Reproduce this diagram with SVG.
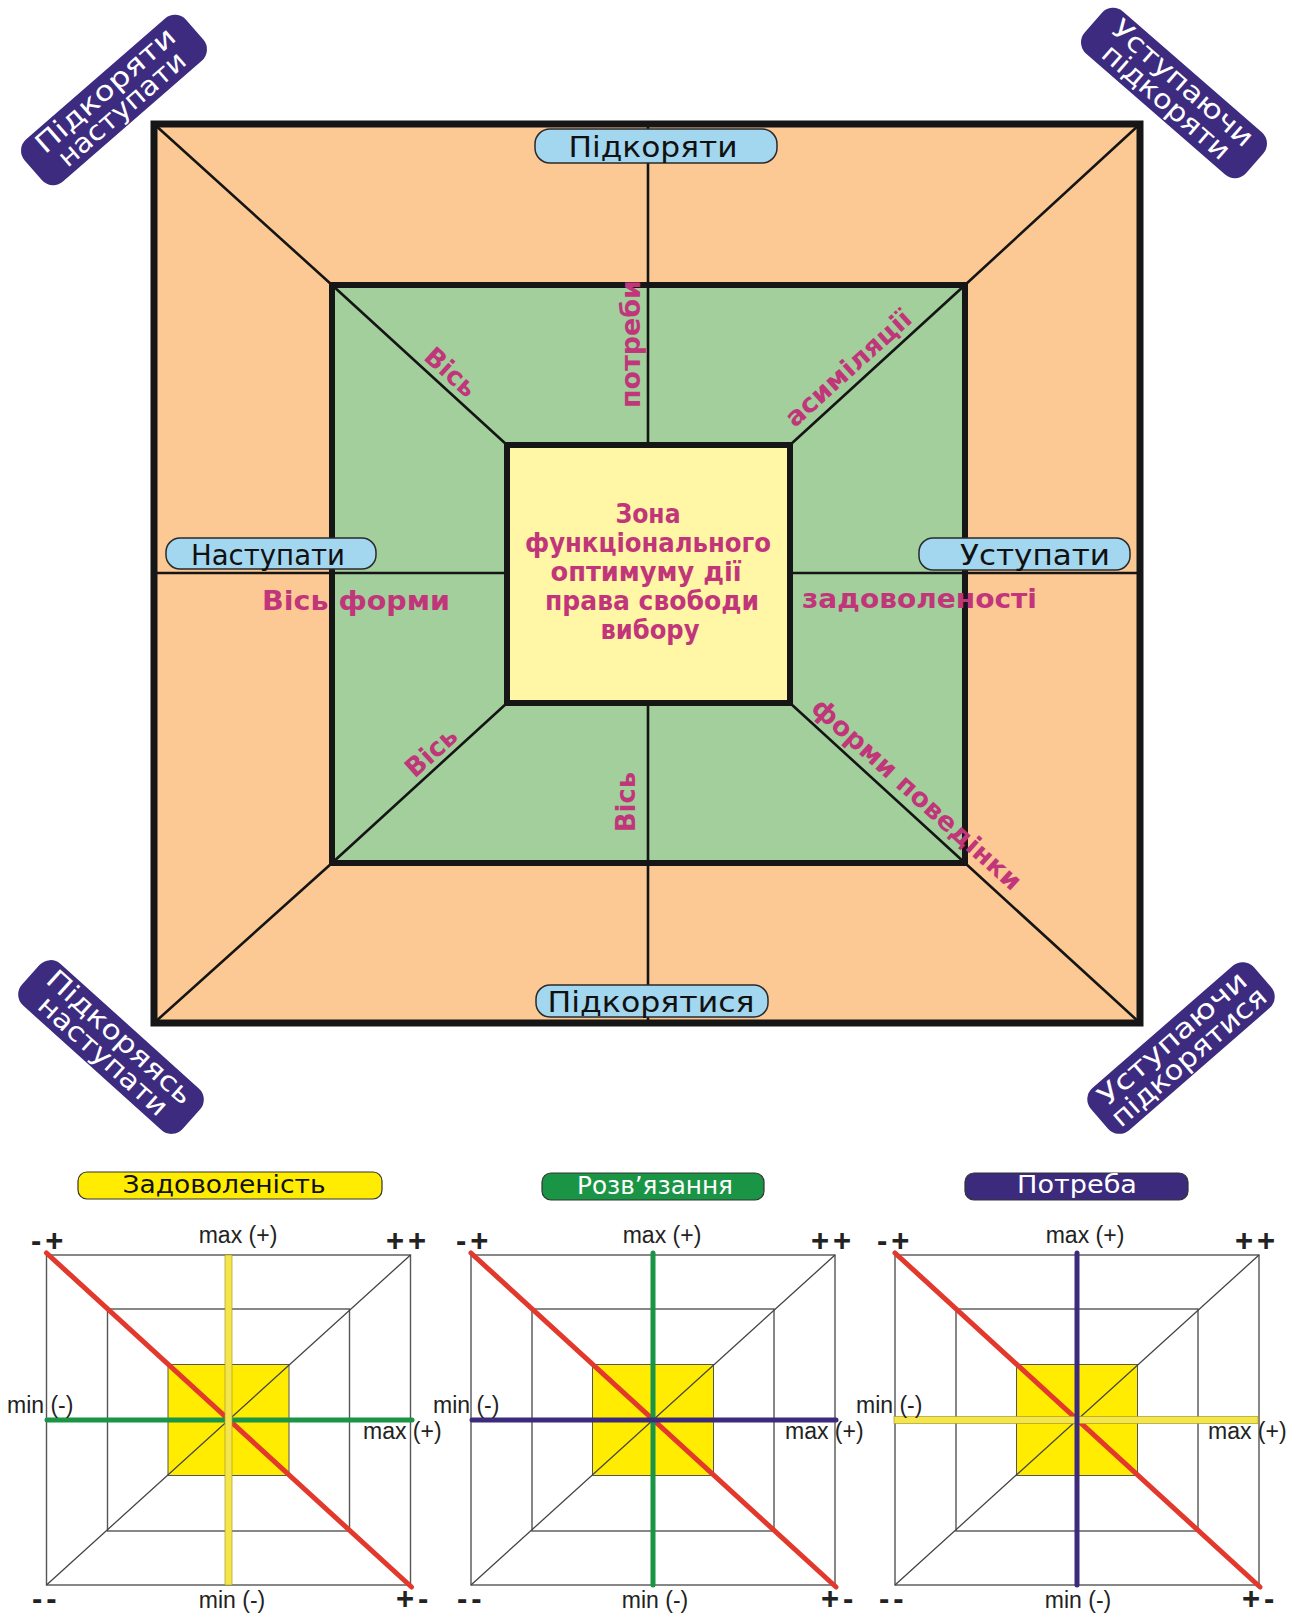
<svg xmlns="http://www.w3.org/2000/svg" width="1296" height="1617" viewBox="0 0 1296 1617">
<style>
.thin{stroke:#151515;stroke-width:2.6;fill:none}
.pill{fill:#a3d6ef;stroke:#2a2a2a;stroke-width:1.5}
.pilltxt{font-family:"DejaVu Sans",sans-serif;font-size:28px;fill:#111;text-anchor:middle}
.pink{font-family:"DejaVu Sans",sans-serif;font-weight:bold;font-size:26px;fill:#c1357a}
.pinkc{font-family:"DejaVu Sans",sans-serif;font-weight:bold;font-size:26px;fill:#c1357a;text-anchor:middle}
.cbox{fill:#3d2b7f}
.ctxt{font-family:"DejaVu Sans",sans-serif;font-size:27px;fill:#ffffff;text-anchor:middle}
.sm{font-family:"Liberation Sans",Arial,sans-serif;font-size:23px;fill:#222}
.pm{font-family:"Liberation Sans",Arial,sans-serif;font-size:31px;font-weight:bold;fill:#222;letter-spacing:4px}
.ttl{font-family:"DejaVu Sans",sans-serif;font-size:25px;text-anchor:middle}
.gthin{stroke:#444;stroke-width:1.3;fill:none}
</style>
<defs>
<g id="grid">
<rect x="-182" y="-165" width="364" height="330" fill="#ffffff" stroke="#555" stroke-width="1.4"/>
<rect x="-121" y="-111" width="242" height="222" fill="none" stroke="#555" stroke-width="1.4"/>
<rect x="-60.5" y="-55.5" width="121" height="111" fill="#ffec00" stroke="#555" stroke-width="1"/>
<path class="gthin" d="M-182 165 L182 -165 M-182 -165 L182 165"/>
<path d="M-182 -167 L183 167" stroke="#e2392c" stroke-width="5" stroke-linecap="round" fill="none"/>
</g>
</defs>

<g id="main-frame">
<rect x="154" y="124" width="986" height="899" fill="#fcc994"/>
<rect x="332" y="285" width="633" height="578" fill="#a3cf9d"/>
<rect x="507" y="445" width="283" height="258" fill="#fff6a6"/>
</g>

<g id="connectors">
<path class="thin" d="M154 124 L332 285 L507 445 M1140 124 L965 285 L790 445 M154 1023 L332 863 L507 703 M1140 1023 L965 863 L790 703 M648 124 V445 M648 703 V1023 M154 573 H507 M790 573 H1140"/>
</g>

<g id="main-borders" fill="none" stroke="#161616">
<rect x="154" y="124" width="986" height="899" stroke-width="7"/>
<rect x="332" y="285" width="633" height="578" stroke-width="6"/>
<rect x="507" y="445" width="283" height="258" stroke-width="6"/>
</g>

<g id="label-pidkoryaty">
<rect class="pill" x="535" y="129" width="242" height="34" rx="15"/>
<text class="pilltxt" x="653" y="157" font-size="30" textLength="169" lengthAdjust="spacingAndGlyphs">Підкоряти</text>
</g>
<g id="label-nastupaty">
<rect class="pill" x="166" y="538" width="210" height="31" rx="14"/>
<text class="pilltxt" x="268" y="565" textLength="154" lengthAdjust="spacingAndGlyphs">Наступати</text>
</g>
<g id="label-ustupaty">
<rect class="pill" x="919" y="538" width="211" height="32" rx="14"/>
<text class="pilltxt" x="1035" y="565" textLength="150" lengthAdjust="spacingAndGlyphs">Уступати</text>
</g>
<g id="label-pidkoryatysya">
<rect class="pill" x="536" y="985" width="232" height="32" rx="14"/>
<text class="pilltxt" x="651" y="1012" textLength="207" lengthAdjust="spacingAndGlyphs">Підкорятися</text>
</g>

<g id="center-zone">
<text class="pinkc" x="648" y="523" textLength="65" lengthAdjust="spacingAndGlyphs">Зона</text>
<text class="pinkc" x="648" y="552" textLength="246" lengthAdjust="spacingAndGlyphs">функціонального</text>
<text class="pinkc" x="646" y="581" textLength="191" lengthAdjust="spacingAndGlyphs">оптимуму дії</text>
<text class="pinkc" x="652" y="610" textLength="214" lengthAdjust="spacingAndGlyphs">права свободи</text>
<text class="pinkc" x="650" y="639" textLength="99" lengthAdjust="spacingAndGlyphs">вибору</text>
</g>

<g id="axis-labels">
<text class="pink" x="262" y="610" textLength="188" lengthAdjust="spacingAndGlyphs">Вісь форми</text>
<text class="pink" x="802" y="608" textLength="235" lengthAdjust="spacingAndGlyphs">задоволеності</text>
<text class="pinkc" transform="translate(451 372) rotate(42)" dy="0.35em" textLength="60" lengthAdjust="spacingAndGlyphs">Вісь</text>
<text class="pinkc" transform="translate(631 344) rotate(-90)" dy="0.35em" textLength="128" lengthAdjust="spacingAndGlyphs">потреби</text>
<text class="pinkc" transform="translate(848 368) rotate(-42)" dy="0.35em" textLength="160" lengthAdjust="spacingAndGlyphs">асиміляції</text>
<text class="pinkc" transform="translate(431 752) rotate(-42)" dy="0.35em" textLength="60" lengthAdjust="spacingAndGlyphs">Вісь</text>
<text class="pinkc" transform="translate(626 802) rotate(-90)" dy="0.35em" textLength="60" lengthAdjust="spacingAndGlyphs">Вісь</text>
<text class="pinkc" transform="translate(917 794) rotate(42)" dy="0.35em" textLength="272" lengthAdjust="spacingAndGlyphs">форми поведінки</text>
</g>

<g id="corner-tl" transform="translate(114 100) rotate(-41)">
<rect class="cbox" x="-107" y="-28" width="214" height="56" rx="15"/>
<text class="ctxt" y="-4" textLength="176" lengthAdjust="spacingAndGlyphs">Підкоряти</text>
<text class="ctxt" y="21" textLength="160" lengthAdjust="spacingAndGlyphs">наступати</text>
</g>
<g id="corner-tr" transform="translate(1174 93) rotate(41)">
<rect class="cbox" x="-107" y="-28" width="214" height="56" rx="15"/>
<text class="ctxt" y="-4" textLength="178" lengthAdjust="spacingAndGlyphs">Уступаючи</text>
<text class="ctxt" y="21" textLength="160" lengthAdjust="spacingAndGlyphs">підкоряти</text>
</g>
<g id="corner-bl" transform="translate(111 1047) rotate(42)">
<rect class="cbox" x="-108" y="-28" width="216" height="56" rx="15"/>
<text class="ctxt" y="-4" textLength="186" lengthAdjust="spacingAndGlyphs">Підкоряясь</text>
<text class="ctxt" y="21" textLength="164" lengthAdjust="spacingAndGlyphs">наступати</text>
</g>
<g id="corner-br" transform="translate(1181 1048) rotate(-41)">
<rect class="cbox" x="-108" y="-28" width="216" height="56" rx="15"/>
<text class="ctxt" y="-4" textLength="188" lengthAdjust="spacingAndGlyphs">Уступаючи</text>
<text class="ctxt" y="21" textLength="196" lengthAdjust="spacingAndGlyphs">підкорятися</text>
</g>

<g id="diagram-zadovolenist">
<rect x="78" y="1172" width="304" height="27" rx="9" fill="#ffec00" stroke="#333" stroke-width="1.2"/>
<text class="ttl" x="224" y="1193" fill="#111" textLength="203" lengthAdjust="spacingAndGlyphs">Задоволеність</text>
<use href="#grid" transform="translate(228.5 1420)"/>
<path d="M47 1420 H412" stroke="#1a9445" stroke-width="5" stroke-linecap="round"/>
<rect x="225" y="1255" width="7" height="330" fill="#f4e64a" stroke="#a89a2a" stroke-width="0.7"/>
<text class="pm" x="31" y="1251">-+</text>
<text class="sm" x="238" y="1243" text-anchor="middle">max (+)</text>
<text class="pm" x="386" y="1251">++</text>
<text class="sm" x="7" y="1413">min (-)</text>
<text class="sm" x="363" y="1439">max (+)</text>
<text class="pm" x="32" y="1609" letter-spacing="8">--</text>
<text class="sm" x="232" y="1608" text-anchor="middle">min (-)</text>
<text class="pm" x="396" y="1609">+-</text>
</g>

<g id="diagram-rozvyazannya">
<rect x="542" y="1173" width="222" height="27" rx="9" fill="#1a9445" stroke="#333" stroke-width="1.2"/>
<text class="ttl" x="655" y="1194" fill="#ffffff" textLength="156" lengthAdjust="spacingAndGlyphs">Розв’язання</text>
<use href="#grid" transform="translate(653 1420)"/>
<path d="M653 1253 V1585" stroke="#1a9445" stroke-width="5" stroke-linecap="round"/>
<path d="M472 1420 H836" stroke="#3c2a7c" stroke-width="5" stroke-linecap="round"/>
<text class="pm" x="456" y="1251">-+</text>
<text class="sm" x="662" y="1243" text-anchor="middle">max (+)</text>
<text class="pm" x="811" y="1251">++</text>
<text class="sm" x="433" y="1413">min (-)</text>
<text class="sm" x="785" y="1439">max (+)</text>
<text class="pm" x="457" y="1609" letter-spacing="8">--</text>
<text class="sm" x="655" y="1608" text-anchor="middle">min (-)</text>
<text class="pm" x="821" y="1609">+-</text>
</g>

<g id="diagram-potreba">
<rect x="965" y="1173" width="223" height="27" rx="9" fill="#3c2a7c" stroke="#333" stroke-width="1.2"/>
<text class="ttl" x="1077" y="1193" fill="#ffffff" textLength="120" lengthAdjust="spacingAndGlyphs">Потреба</text>
<use href="#grid" transform="translate(1077 1420)"/>
<rect x="894" y="1416.5" width="364" height="7" fill="#f4e64a" stroke="#a89a2a" stroke-width="0.7"/>
<path d="M1077 1253 V1585" stroke="#3c2a7c" stroke-width="5" stroke-linecap="round"/>
<text class="pm" x="877" y="1251">-+</text>
<text class="sm" x="1085" y="1243" text-anchor="middle">max (+)</text>
<text class="pm" x="1235" y="1251">++</text>
<text class="sm" x="856" y="1413">min (-)</text>
<text class="sm" x="1208" y="1439">max (+)</text>
<text class="pm" x="879" y="1609" letter-spacing="8">--</text>
<text class="sm" x="1078" y="1608" text-anchor="middle">min (-)</text>
<text class="pm" x="1242" y="1609">+-</text>
</g>
</svg>
